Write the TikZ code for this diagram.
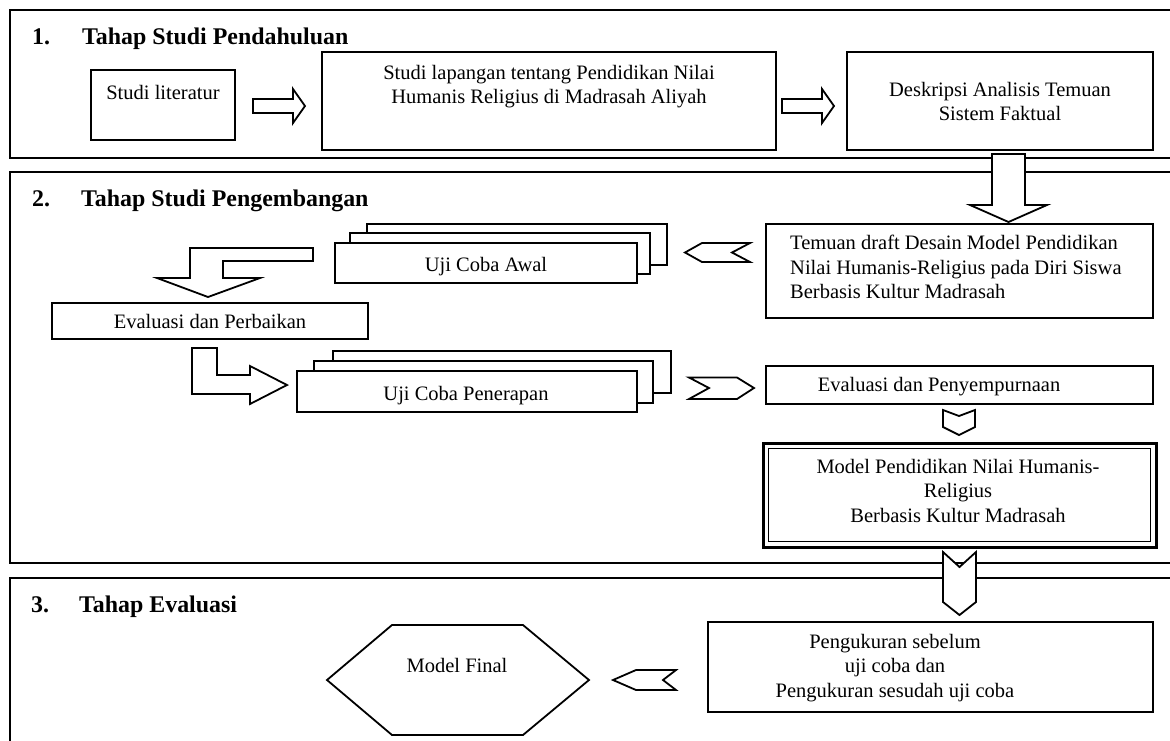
\documentclass[tikz,border=0pt]{standalone}
\usepackage{fontspec}
\setmainfont{Liberation Serif}
\usetikzlibrary{fit}
\begin{document}
\begin{tikzpicture}[x=1pt,y=-1pt,
  frame/.style={line width=2pt},
  box/.style={draw, line width=1.8pt, fill=white, rectangle, inner sep=0pt},
  blockarrow/.style={draw, line width=1.8pt, fill=white, line join=miter},
  txt/.style={font=\fontsize{20.5}{24.5}\selectfont, align=center, inner sep=0pt},
  ttl/.style={font=\fontsize{23.9}{28}\selectfont\bfseries, anchor=base west, inner sep=0pt}]
\useasboundingbox (0,0) rectangle (1170,740);
\clip (0,0) rectangle (1170,740);
\fill[white] (0,0) rectangle (1170,740);
% panels
\draw[frame] (1180,10) -- (10,10) -- (10,158) -- (1180,158);
\draw[frame] (1180,172) -- (10,172) -- (10,563) -- (1180,563);
\draw[frame] (1180,578) -- (10,578) -- (10,760);
% titles
\node[ttl] (t1n) at (32,44) {1.};
\node[ttl] (t1) at (82,44) {Tahap Studi Pendahuluan};
\node[ttl] (t2n) at (32,206) {2.};
\node[ttl] (t2) at (81,206) {Tahap Studi Pengembangan};
\node[ttl] (t3n) at (31,612) {3.};
\node[ttl] (t3) at (79,612) {Tahap Evaluasi};
% panel 1
\node[box, fit={(91,70) (235,140)}] (lit) {};
\node[txt, anchor=base] (litT) at (163,99) {Studi literatur};
\node[box, fit={(322,52) (776,150)}] (lap) {};
\node[txt, anchor=north] (lapT) at (549,65) {Studi lapangan tentang Pendidikan Nilai\\Humanis Religius di Madrasah Aliyah};
\node[box, fit={(847,52) (1153,150)}] (desk) {};
\node[txt, anchor=north] (deskT) at (1000,82) {Deskripsi Analisis Temuan\\Sistem Faktual};
\draw[blockarrow] (253,99) -- (293,99) -- (293,89) -- (305,106) -- (293,123) -- (293,113) -- (253,113) -- cycle;
\draw[blockarrow] (782,99) -- (822,99) -- (822,89) -- (834,106) -- (822,123) -- (822,113) -- (782,113) -- cycle;
% big down arrow
\draw[blockarrow] (992,154) -- (1025,154) -- (1025,205) -- (1047,205) -- (1008.5,222) -- (970,205) -- (992,205) -- cycle;
% panel 2
\node[box, fit={(766,224) (1153,318)}] (tem) {};
\node[txt, anchor=north west, align=left] (temT) at (790,235) {Temuan draft Desain Model Pendidikan\\Nilai Humanis-Religius pada Diri Siswa\\Berbasis Kultur Madrasah};
\node[box, fit={(367,224) (667,265)}] (awal3) {};
\node[box, fit={(350,233) (650,274)}] (awal2) {};
\node[box, fit={(335,243) (637,283)}] (awal) {};
\node[txt, anchor=base] (awalT) at (486,271) {Uji Coba Awal};
\draw[blockarrow] (685,252.5) -- (702,243) -- (750,243) -- (732,252.5) -- (750,262) -- (702,262) -- cycle;
\draw[blockarrow] (190,248) -- (313,248) -- (313,261) -- (223,261) -- (223,278) -- (260,278) -- (208,297) -- (157,278) -- (190,278) -- cycle;
\node[box, fit={(52,303) (368,339)}] (evp) {};
\node[txt, anchor=base] (evpT) at (210,328) {Evaluasi dan Perbaikan};
\draw[blockarrow] (192,348) -- (217,348) -- (217,375) -- (250,375) -- (250,366) -- (287,385) -- (250,404) -- (250,394) -- (192,394) -- cycle;
\node[box, fit={(333,351) (671,393)}] (pen3) {};
\node[box, fit={(314,361) (653,403)}] (pen2) {};
\node[box, fit={(297,371) (637,412)}] (pen) {};
\node[txt, anchor=base] (penT) at (466,400) {Uji Coba Penerapan};
\draw[blockarrow] (689,377.5) -- (737,377.5) -- (754,388) -- (737,399) -- (689,399) -- (709,388) -- cycle;
\node[box, fit={(766,366) (1153,404)}] (eps) {};
\node[txt, anchor=base] (epsT) at (939,391) {Evaluasi dan Penyempurnaan};
\draw[blockarrow] (943,410) -- (959,416) -- (975,410) -- (975,427) -- (959,435) -- (943,427) -- cycle;
\node[draw, line width=3pt, fill=white, inner sep=0pt, fit={(763,443) (1156,547)}] (mod) {};
\draw[line width=1pt] (768.5,448.5) rectangle (1150.5,541.5);
\node[txt, anchor=north] (modT) at (958,459) {Model Pendidikan Nilai Humanis-\\Religius\\Berbasis Kultur Madrasah};
\draw[blockarrow] (943,552) -- (959.5,567) -- (976,552) -- (976,602) -- (959.5,615) -- (943,602) -- cycle;
% panel 3
\node[box, fit={(708,622) (1153,712)}] (ukur) {};
\node[txt, anchor=north] (ukurT) at (895,634) {Pengukuran sebelum\\uji coba dan\\Pengukuran sesudah uji coba};
\draw[blockarrow] (613,680) -- (636,670) -- (676,670) -- (663,680) -- (676,690) -- (636,690) -- cycle;
\draw[blockarrow] (327,680) -- (392,625) -- (523,625) -- (589,680) -- (523,735) -- (392,735) -- cycle;
\node[txt, anchor=base] (finT) at (457,672) {Model Final};
\end{tikzpicture}
\end{document}
